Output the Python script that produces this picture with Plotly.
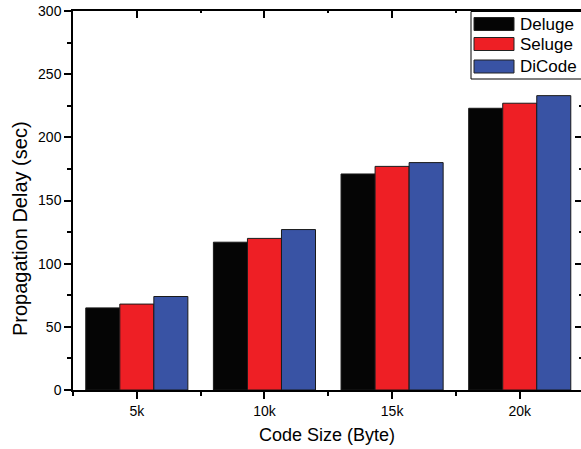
import plotly.graph_objects as go

categories = ["5k", "10k", "15k", "20k"]
deluge = [65, 117, 171, 223]
seluge = [68, 120, 177, 227]
dicode = [74, 127, 180, 233]
series_names = ["Deluge", "Seluge", "DiCode"]
series_colors = ["#050505", "#ee1f25", "#3953a4"]
y_ticks = [0, 50, 100, 150, 200, 250, 300]
x_title = "Code Size (Byte)"
y_title = "Propagation Delay (sec)"

W, H = 581, 449
L, R, T, B = 73, 0, 11, 59
pw = W - L - R
ph = H - T - B

def px_x(p):
    return (p - L) / pw

def px_y(p):
    return (H - B - p) / ph

xpos = list(range(len(categories)))
fig = go.Figure()
for name, vals, col in zip(series_names, [deluge, seluge, dicode], series_colors):
    fig.add_trace(go.Bar(
        x=xpos, y=vals, name=name, marker=dict(color=col, line=dict(color="#1a1a1a", width=1)),
        showlegend=False,
    ))

fig.add_trace(go.Scatter(x=[None], y=[None], xaxis="x2", yaxis="y2", showlegend=False, hoverinfo="skip"))

font = "Liberation Sans, Arial, sans-serif"
xr = [-0.5, 3.48]
axis_common = dict(showline=True, linecolor="black", linewidth=1.5, showgrid=False, zeroline=False)
fig.update_layout(
    width=W, height=H,
    margin=dict(l=L, r=R, t=T, b=B, pad=0),
    paper_bgcolor="white", plot_bgcolor="white",
    barmode="group", bargap=0.2, bargroupgap=0,
    font=dict(family=font, size=14, color="black"),
    xaxis=dict(
        range=xr, tickmode="array", tickvals=xpos, ticktext=categories,
        ticks="outside", ticklen=7, tickwidth=1.5, tickcolor="black",
        minor=dict(ticks="outside", ticklen=4, tickwidth=1.5, tickcolor="black", tick0=0.5, dtick=1),
        tickfont=dict(size=14),
        title=dict(text=x_title, font=dict(size=18), standoff=11),
        **axis_common,
    ),
    yaxis=dict(
        range=[0, 300], tickmode="array", tickvals=y_ticks,
        ticks="outside", ticklen=7, tickwidth=1.5, tickcolor="black",
        minor=dict(ticks="outside", ticklen=4, tickwidth=1.5, tickcolor="black", tick0=25, dtick=50),
        tickfont=dict(size=14),
        **axis_common,
    ),
    xaxis2=dict(
        overlaying="x", side="top", range=xr, tickmode="array", tickvals=xpos,
        showticklabels=False, ticks="inside", ticklen=7, tickwidth=1.5, tickcolor="black",
        minor=dict(ticks="inside", ticklen=2, tickwidth=1.5, tickcolor="black", tick0=0.5, dtick=1),
        **axis_common,
    ),
    yaxis2=dict(
        overlaying="y", side="right", range=[0, 300], tickmode="array", tickvals=y_ticks,
        showticklabels=False, ticks="inside", ticklen=6, tickwidth=1.5, tickcolor="black",
        minor=dict(ticks="inside", ticklen=2, tickwidth=1.5, tickcolor="black", tick0=25, dtick=50),
        **axis_common,
    ),
)

# custom legend (wide swatches)
shapes = [dict(type="rect", xref="paper", yref="paper",
               x0=px_x(471), x1=px_x(590), y0=px_y(79), y1=px_y(11.5),
               line=dict(color="black", width=1), fillcolor="white", layer="above")]
annotations = [dict(xref="paper", yref="paper", x=px_x(20), y=px_y(229), text=y_title,
                    textangle=-90, showarrow=False, xanchor="center", yanchor="middle",
                    font=dict(size=20, family=font, color="black"))]
row_centers = [24, 44, 66.5]
for name, col, cy in zip(series_names, series_colors, row_centers):
    shapes.append(dict(type="rect", xref="paper", yref="paper",
                       x0=px_x(474), x1=px_x(514), y0=px_y(cy + 6.5), y1=px_y(cy - 6.5),
                       line=dict(color="#222222", width=1), fillcolor=col, layer="above"))
    annotations.append(dict(xref="paper", yref="paper", x=px_x(518), y=px_y(cy),
                            text=name, showarrow=False, xanchor="left", yanchor="middle",
                            font=dict(size=17, family=font, color="black")))
fig.update_layout(shapes=shapes, annotations=annotations)

fig.write_html("out.html", config={"displayModeBar": False},
               post_script="document.body.style.margin='0';document.body.style.overflow='hidden';")
